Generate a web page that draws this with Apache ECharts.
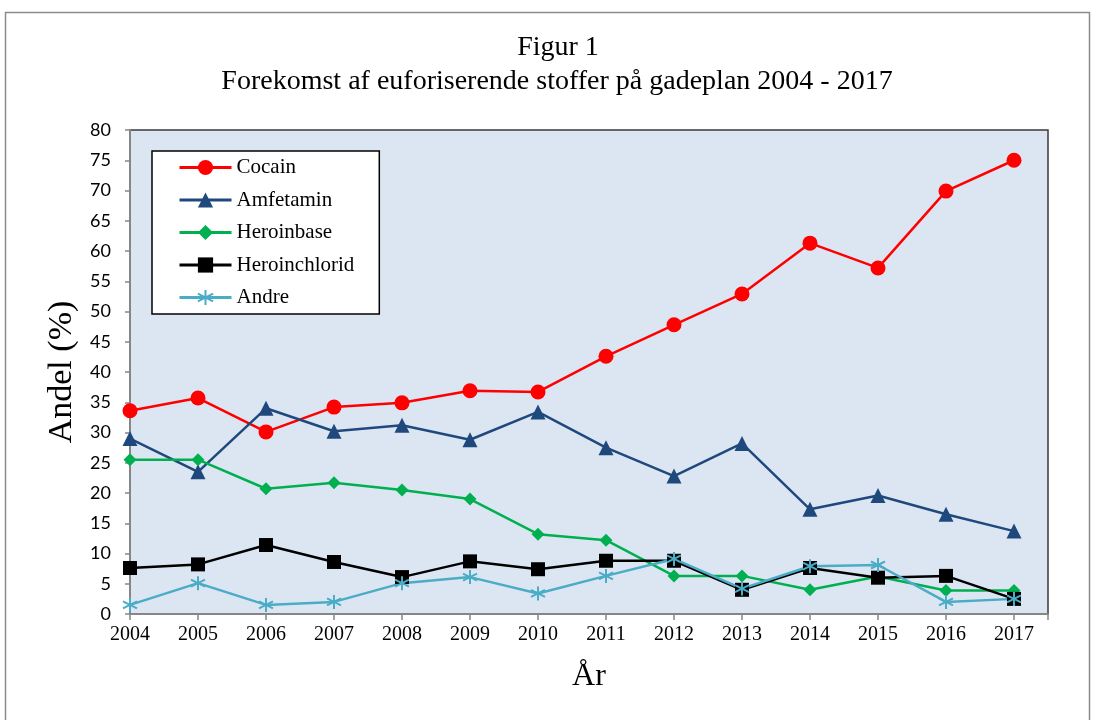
<!DOCTYPE html>
<html><head><meta charset="utf-8">
<script src="https://cdn.jsdelivr.net/npm/echarts@6/dist/echarts.min.js"></script>
<style>html,body{margin:0;padding:0;background:#fff}#c{width:1096px;height:720px}</style>
</head><body><div id="c"></div>
<script>
const years = [2004,2005,2006,2007,2008,2009,2010,2011,2012,2013,2014,2015,2016,2017];
const cocain = [33.6,35.7,30.1,34.2,34.9,36.9,36.7,42.6,47.8,52.9,61.3,57.2,69.9,75.0];
const amfetamin = [29.0,23.5,34.0,30.2,31.2,28.8,33.4,27.5,22.8,28.2,17.3,19.6,16.5,13.7];
const heroinbase = [25.5,25.5,20.7,21.7,20.5,19.0,13.2,12.2,6.3,6.3,4.0,6.2,3.9,3.9];
const heroinchlorid = [7.6,8.2,11.4,8.6,6.1,8.7,7.4,8.8,8.8,4.0,7.6,6.0,6.3,2.5];
const andre = [1.5,5.1,1.5,2.0,5.1,6.1,3.4,6.3,9.1,4.2,7.9,8.1,2.0,2.5];
const yTicks = {min:0, max:80, step:5};

const serif = '"Liberation Serif","DejaVu Serif",serif';
const sans = 'Lato,"Open Sans",sans-serif';
const pair = arr => years.map((y,i)=>[y,arr[i]]);
const star = 'path://M0,-10L0,10M-8.66,-5L8.66,5M-8.66,5L8.66,-5';

function mk(name, data, color, symbol, size, extra) {
  return Object.assign({
    name, type:'line', data: pair(data), symbol, symbolSize:size,
    lineStyle:{color, width:2.5}, itemStyle:{color}, showSymbol:true, z:3,
    animation:false
  }, extra||{});
}

const chart = echarts.init(document.getElementById('c'), null, {renderer:'canvas'});
chart.setOption({
  animation:false,
  backgroundColor:'#fff',
  grid:{left:130, right:48, top:130, bottom:106, show:true, backgroundColor:'#DCE6F2', borderColor:'#3a3a3a', borderWidth:1.5},
  graphic:[
    {type:'rect', shape:{x:5.5,y:12.5,width:1084,height:720}, style:{fill:'none', stroke:'#8c8c8c', lineWidth:1.5}, z:-10},
    {type:'text', x:558, y:48, style:{text:'Figur 1', font:'28px '+serif, fill:'#000', textAlign:'center', textVerticalAlign:'middle'}},
    {type:'text', x:557, y:82, style:{text:'Forekomst af euforiserende stoffer på gadeplan 2004 - 2017', font:'28px '+serif, fill:'#000', textAlign:'center', textVerticalAlign:'middle'}}
  ],
  legend:{
    orient:'vertical', left:152, top:151,
    backgroundColor:'#fff', borderColor:'#000', borderWidth:1.5,
    padding:[6,25,6,26], itemGap:11.5, itemWidth:52, itemHeight:19,
    lineStyle:{width:3},
    textStyle:{fontFamily:serif, fontSize:21, color:'#000'},
    data:['Cocain','Amfetamin','Heroinbase','Heroinchlorid','Andre']
  },
  xAxis:{
    type:'value', min:2004, max:2017.5, interval:1,
    name:'År', nameLocation:'middle', nameGap:47,
    nameTextStyle:{fontFamily:serif, fontSize:32, color:'#000'},
    axisLine:{show:true, onZero:false, lineStyle:{color:'#868686', width:2}},
    axisTick:{show:true, length:6, lineStyle:{color:'#868686', width:1.5}},
    axisLabel:{fontFamily:serif, fontSize:20, color:'#000', margin:11,
      formatter:v=> Number.isInteger(v)? String(v):''},
    splitLine:{show:false}
  },
  yAxis:{
    type:'value', min:yTicks.min, max:yTicks.max, interval:yTicks.step,
    name:'Andel (%)', nameLocation:'middle', nameGap:43, nameRotate:90,
    nameTextStyle:{fontFamily:serif, fontSize:34, color:'#000'},
    axisLine:{show:true, lineStyle:{color:'#868686', width:2}},
    axisTick:{show:true, length:5, lineStyle:{color:'#868686', width:1.5}},
    axisLabel:{fontFamily:sans, fontSize:18, color:'#000', margin:19},
    splitLine:{show:false}
  },
  series:[
    mk('Cocain', cocain, '#FF0000', 'circle', 15),
    mk('Amfetamin', amfetamin, '#1F497D', 'triangle', 15),
    mk('Heroinbase', heroinbase, '#00B050', 'diamond', 13),
    mk('Heroinchlorid', heroinchlorid, '#000000', 'rect', 14),
    mk('Andre', andre, '#4BACC6', star, 14, {itemStyle:{color:'none', borderColor:'#4BACC6', borderWidth:2}})
  ]
});
</script></body></html>
